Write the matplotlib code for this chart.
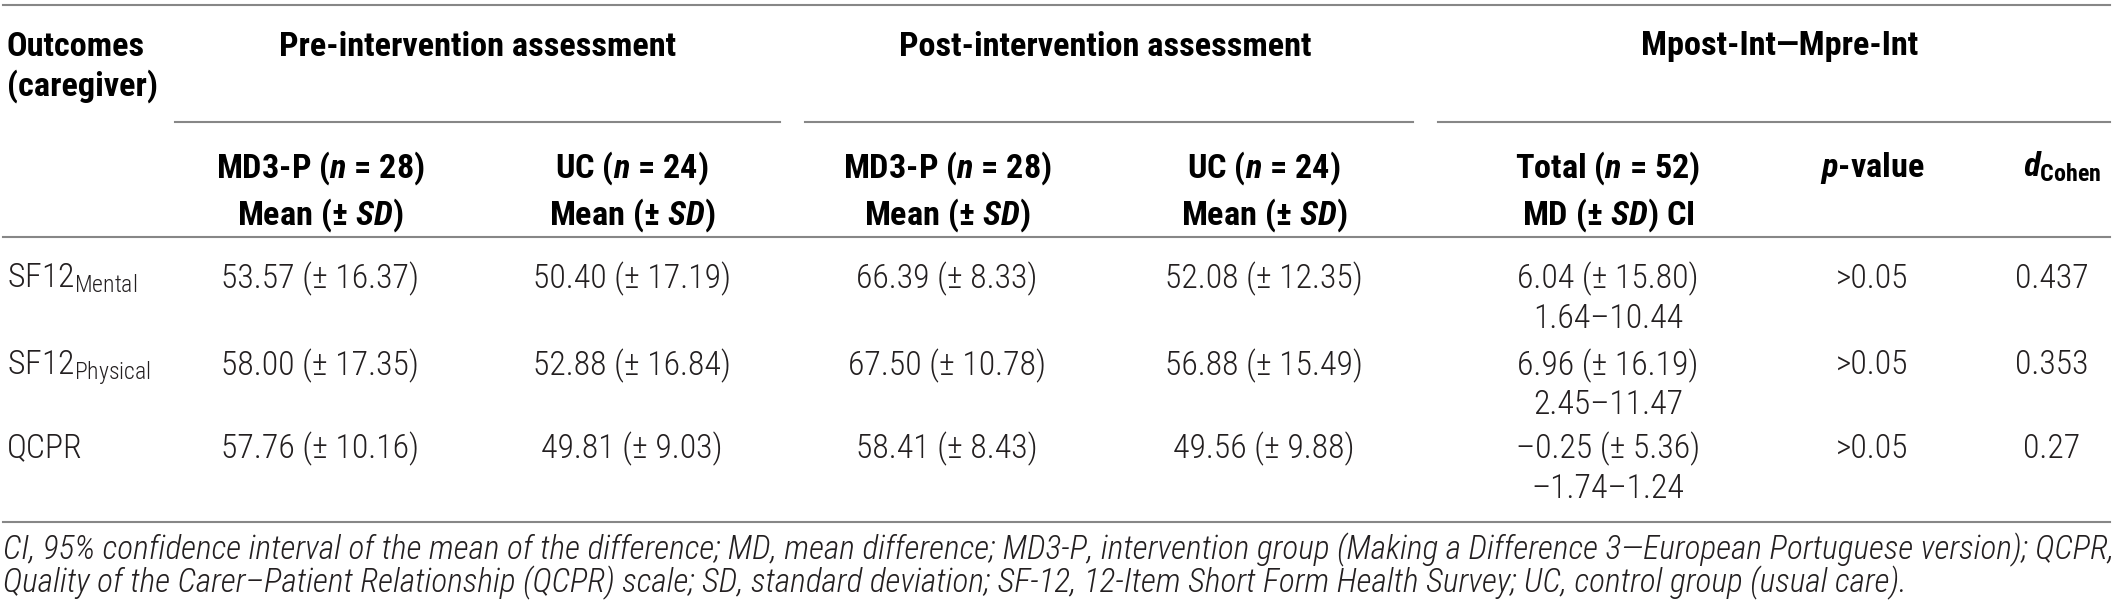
import matplotlib
matplotlib.use("Agg")
import matplotlib.pyplot as plt
from matplotlib import font_manager

# condensed face like the journal's Helvetica Condensed, if installed
names = {f.name for f in font_manager.fontManager.ttflist}
FONT = next((n for n in ["Roboto Condensed", "IBM Plex Sans Condensed", "Liberation Sans Narrow"]
             if n in names), "Liberation Sans")

plt.rcParams["font.family"] = [FONT, "DejaVu Sans"]
plt.rcParams["mathtext.fontset"] = "custom"
plt.rcParams["mathtext.rm"] = FONT
plt.rcParams["mathtext.it"] = FONT + ":italic"
plt.rcParams["mathtext.bf"] = FONT + ":bold"
plt.rcParams["mathtext.bfit"] = FONT + ":bold:italic"

# ---- data -------------------------------------------------------------
outcome_base = ["SF12", "SF12", "QCPR"]
outcome_sub = ["Mental", "Physical", ""]
pre_md3_mean = [53.57, 58.00, 57.76]
pre_md3_sd = [16.37, 17.35, 10.16]
pre_uc_mean = [50.40, 52.88, 49.81]
pre_uc_sd = [17.19, 16.84, 9.03]
post_md3_mean = [66.39, 67.50, 58.41]
post_md3_sd = [8.33, 10.78, 8.43]
post_uc_mean = [52.08, 56.88, 49.56]
post_uc_sd = [12.35, 15.49, 9.88]
md_mean = [6.04, 6.96, -0.25]
md_sd = [15.80, 16.19, 5.36]
ci_low = [1.64, 2.45, -1.74]
ci_high = [10.44, 11.47, 1.24]
p_values = [">0.05", ">0.05", ">0.05"]
d_cohen = ["0.437", "0.353", "0.27"]

groups = ["Pre-intervention assessment", "Post-intervention assessment", "Mpost-Int\u2014Mpre-Int"]
sub_head1 = [r"MD3-P ($\mathbfit{n}$ = 28)", r"UC ($\mathbfit{n}$ = 24)",
             r"MD3-P ($\mathbfit{n}$ = 28)", r"UC ($\mathbfit{n}$ = 24)",
             r"Total ($\mathbfit{n}$ = 52)", r"$\mathbfit{p}$-value",
             r"$\mathbfit{d}_{\mathbf{Cohen}}$"]
sub_head2 = [r"Mean (± $\mathbfit{SD}$)"] * 4 + [r"MD (± $\mathbfit{SD}$) CI", "", ""]
footnote = [
    "CI, 95% confidence interval of the mean of the difference; MD, mean difference; MD3-P, "
    "intervention group (Making a Difference 3\u2014European Portuguese version); QCPR,",
    "Quality of the Carer\u2013Patient Relationship (QCPR) scale; SD, standard deviation; "
    "SF-12, 12-Item Short Form Health Survey; UC, control group (usual care).",
]

def num(v):
    return f"{v:.2f}".replace("-", "\u2013")

def msd(m, s):
    return f"{num(m)} (± {num(s)})"

W, H = 2117, 607
fig = plt.figure(figsize=(W / 100, H / 100), dpi=100)
ax = fig.add_axes([0, 0, 1, 1])
ax.set_xlim(0, W); ax.set_ylim(H, 0); ax.axis("off")
rend = fig.canvas.get_renderer()

def fit(s, target, **kw):
    # font size that makes s about target px wide
    t = ax.text(0, 0, s, fontsize=10, **kw)
    w = t.get_window_extent(rend).width
    t.remove()
    return 10 * target / w

FS_H = fit(groups[0], 397, weight="bold")
FS_B = fit(msd(pre_md3_mean[0], pre_md3_sd[0]), 199, weight="light")
FS_F = fit(footnote[0], 2105, style="italic", weight="light")

LINE = "#878787"
TXT = "#231f20"
cols = [320, 632, 947, 1264, 1608, 1872, 2052]
head_x = cols[:6] + [2062]
group_x = [478, 1105, 1780]
group_span = [(175, 780), (805, 1413), (1438, 2110)]

# rules
for y in (5, 237, 522):
    ax.plot([3, 2110], [y, y], color=LINE, lw=1.5)
for x0, x1 in group_span:
    ax.plot([x0, x1], [122, 122], color=LINE, lw=1.5)

# headers
ax.text(7, 43, "Outcomes", fontsize=FS_H, weight="bold", va="center_baseline", color="black")
ax.text(7, 82, "(caregiver)", fontsize=FS_H, weight="bold", va="center_baseline", color="black")
for gx, g in zip(group_x, groups):
    ax.text(gx, 43, g, fontsize=FS_H, weight="bold", ha="center", va="center_baseline")
for cx, h1, h2 in zip(head_x, sub_head1, sub_head2):
    ax.text(cx, 163, h1, fontsize=FS_H, weight="bold", ha="center", va="center_baseline")
    if h2:
        ax.text(cx, 210, h2, fontsize=FS_H, weight="bold", ha="center", va="center_baseline")

# body
row_y = [275, 362, 445]
for i, y in enumerate(row_y):
    lab = outcome_base[i] + (r"$_{\mathregular{%s}}$" % outcome_sub[i] if outcome_sub[i] else "")
    ax.text(7, y, lab, fontsize=FS_B, weight="light", va="center_baseline", color=TXT)
    vals = [msd(pre_md3_mean[i], pre_md3_sd[i]), msd(pre_uc_mean[i], pre_uc_sd[i]),
            msd(post_md3_mean[i], post_md3_sd[i]), msd(post_uc_mean[i], post_uc_sd[i]),
            msd(md_mean[i], md_sd[i]), p_values[i], d_cohen[i]]
    for cx, v in zip(cols, vals):
        ax.text(cx, y, v, fontsize=FS_B, weight="light", ha="center", va="center_baseline",
                color=TXT)
    ax.text(cols[4], y + 40, f"{num(ci_low[i])}\u2013{num(ci_high[i])}", fontsize=FS_B,
            weight="light", ha="center", va="center_baseline", color=TXT)

# footnote
for k, line in enumerate(footnote):
    ax.text(3, 546 + 33 * k, line, fontsize=FS_F, style="italic", weight="light",
            va="center_baseline", color=TXT)

fig.savefig("out.png", dpi=100)
